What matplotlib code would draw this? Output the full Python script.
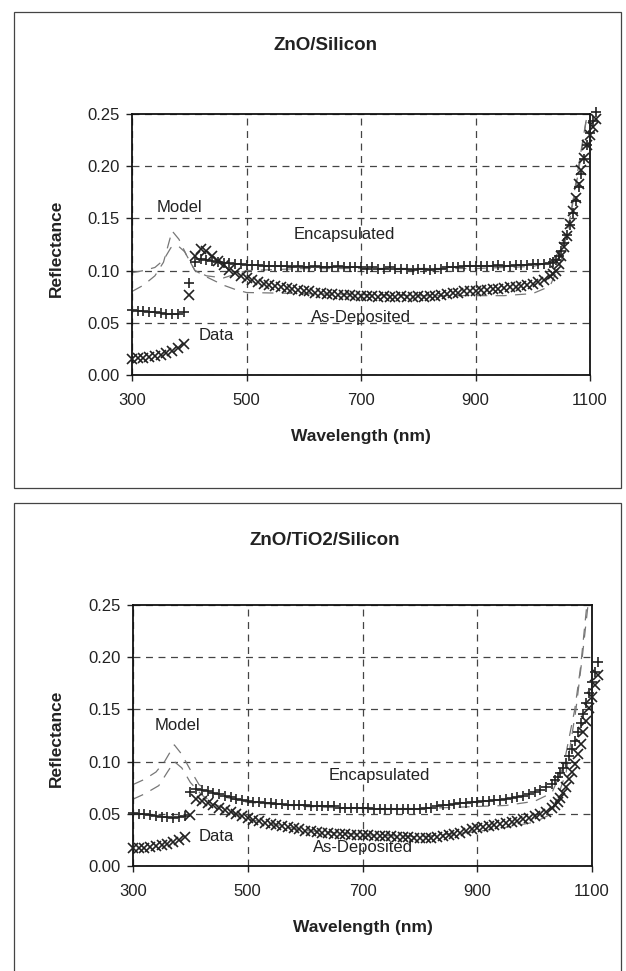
import matplotlib
matplotlib.use("Agg")
from matplotlib import pyplot as plt
from matplotlib.patches import Rectangle

plt.rcParams['font.family'] = ['Liberation Sans', 'DejaVu Sans']
plt.rcParams['lines.scale_dashes'] = False

# ---- data -------------------------------------------------------------
# short-wavelength segment (separate detector, 300-390 nm)
wl_uv = [300, 310, 320, 330, 340, 350, 360, 370, 380, 390]
# main segment: 10 nm steps to 1030, then 5 nm steps up to 1110
wl_main = list(range(400, 1031, 10)) + list(range(1035, 1111, 5))

top_enc_uv = [0.062, 0.061, 0.061, 0.060, 0.060, 0.059, 0.058, 0.058, 0.058, 0.060]
top_dep_uv = [0.015, 0.016, 0.016, 0.017, 0.018, 0.019, 0.021, 0.023, 0.026, 0.030]
top_enc = [0.088, 0.108, 0.111, 0.110, 0.109, 0.108, 0.107, 0.107, 0.106, 0.106,
           0.105, 0.105, 0.105, 0.104, 0.104, 0.104, 0.104, 0.104, 0.103, 0.104,
           0.103, 0.103, 0.104, 0.103, 0.103, 0.103, 0.104, 0.103, 0.103, 0.103,
           0.103, 0.102, 0.103, 0.102, 0.102, 0.103, 0.102, 0.102, 0.102, 0.101,
           0.102, 0.102, 0.101, 0.102, 0.102, 0.103, 0.103, 0.103, 0.104, 0.104,
           0.104, 0.104, 0.104, 0.104, 0.105, 0.104, 0.104, 0.105, 0.105, 0.105,
           0.106, 0.106, 0.106, 0.107,
           0.108, 0.110, 0.114, 0.119, 0.126, 0.134, 0.144, 0.155, 0.167, 0.180,
           0.193, 0.207, 0.220, 0.232, 0.243, 0.252]
top_dep = [0.077, 0.114, 0.121, 0.119, 0.114, 0.109, 0.105, 0.101, 0.098, 0.095,
           0.093, 0.091, 0.089, 0.087, 0.086, 0.085, 0.084, 0.083, 0.082, 0.081,
           0.080, 0.080, 0.079, 0.079, 0.078, 0.078, 0.077, 0.077, 0.077, 0.076,
           0.076, 0.076, 0.076, 0.075, 0.076, 0.075, 0.075, 0.076, 0.075, 0.075,
           0.076, 0.075, 0.076, 0.076, 0.077, 0.078, 0.079, 0.079, 0.080, 0.080,
           0.080, 0.081, 0.081, 0.082, 0.082, 0.083, 0.084, 0.084, 0.085, 0.086,
           0.087, 0.089, 0.091, 0.095,
           0.097, 0.100, 0.106, 0.114, 0.123, 0.133, 0.145, 0.157, 0.170, 0.183,
           0.196, 0.208, 0.220, 0.230, 0.238, 0.245]

top_mod_enc_wl = [300, 320, 340, 355, 368, 380, 392, 410, 430, 460, 500, 600, 700,
                  800, 900, 1000, 1030, 1050, 1065, 1080, 1095]
top_mod_enc = [0.098, 0.100, 0.103, 0.110, 0.122, 0.124, 0.118, 0.100, 0.095, 0.093,
               0.100, 0.102, 0.102, 0.102, 0.102, 0.104, 0.108, 0.120, 0.150, 0.195, 0.250]
top_mod_dep_wl = [300, 320, 340, 355, 370, 382, 395, 410, 430, 460, 480, 500, 600,
                  700, 800, 900, 950, 1000, 1030, 1050, 1065, 1080, 1095]
top_mod_dep = [0.080, 0.086, 0.095, 0.108, 0.138, 0.130, 0.115, 0.100, 0.094, 0.086,
               0.082, 0.079, 0.078, 0.077, 0.076, 0.076, 0.076, 0.078, 0.085, 0.110,
               0.150, 0.200, 0.250]

bot_enc_uv = [0.051, 0.050, 0.050, 0.049, 0.048, 0.047, 0.047, 0.046, 0.047, 0.048]
bot_dep_uv = [0.017, 0.017, 0.017, 0.018, 0.019, 0.020, 0.021, 0.023, 0.025, 0.028]
bot_enc = [0.071, 0.074, 0.073, 0.072, 0.070, 0.069, 0.067, 0.066, 0.064, 0.063,
           0.062, 0.061, 0.061, 0.060, 0.060, 0.059, 0.059, 0.058, 0.058, 0.058,
           0.058, 0.057, 0.057, 0.057, 0.057, 0.057, 0.056, 0.056, 0.056, 0.056,
           0.056, 0.056, 0.055, 0.055, 0.055, 0.055, 0.055, 0.055, 0.055, 0.055,
           0.055, 0.056, 0.056, 0.057, 0.058, 0.058, 0.059, 0.060, 0.060, 0.061,
           0.061, 0.062, 0.062, 0.063, 0.063, 0.064, 0.065, 0.066, 0.067, 0.069,
           0.071, 0.073, 0.076, 0.079,
           0.082, 0.085, 0.089, 0.094, 0.099, 0.105, 0.112, 0.120, 0.128, 0.137,
           0.146, 0.156, 0.166, 0.176, 0.186, 0.195]
bot_dep = [0.049, 0.064, 0.062, 0.060, 0.058, 0.056, 0.054, 0.052, 0.050, 0.048,
           0.046, 0.044, 0.043, 0.041, 0.040, 0.039, 0.038, 0.037, 0.036, 0.035,
           0.034, 0.034, 0.033, 0.032, 0.032, 0.031, 0.031, 0.031, 0.030, 0.030,
           0.030, 0.030, 0.029, 0.029, 0.029, 0.029, 0.028, 0.028, 0.028, 0.027,
           0.027, 0.027, 0.027, 0.028, 0.029, 0.030, 0.031, 0.032, 0.034, 0.035,
           0.036, 0.037, 0.038, 0.039, 0.040, 0.041, 0.042, 0.043, 0.045, 0.046,
           0.048, 0.050, 0.052, 0.056,
           0.058, 0.061, 0.065, 0.070, 0.076, 0.083, 0.090, 0.098, 0.107, 0.117,
           0.128, 0.139, 0.151, 0.162, 0.173, 0.183]

bot_mod_enc_wl = [300, 320, 340, 355, 372, 385, 400, 415, 430, 460, 500, 600, 700,
                  800, 900, 950, 1000, 1030, 1050, 1070, 1080, 1091]
bot_mod_enc = [0.078, 0.083, 0.090, 0.100, 0.116, 0.107, 0.092, 0.078, 0.072, 0.066,
               0.061, 0.057, 0.055, 0.055, 0.057, 0.058, 0.062, 0.070, 0.095, 0.150,
               0.190, 0.250]
bot_mod_dep_wl = [300, 320, 345, 360, 372, 385, 400, 420, 440, 470, 500, 600, 700,
                  800, 900, 950, 1000, 1030, 1055, 1072, 1083, 1093]
bot_mod_dep = [0.064, 0.069, 0.077, 0.090, 0.100, 0.094, 0.080, 0.068, 0.060, 0.052,
               0.045, 0.034, 0.030, 0.028, 0.033, 0.037, 0.042, 0.050, 0.090, 0.150,
               0.200, 0.250]

panels = [
    dict(title="ZnO/Silicon", enc_uv=top_enc_uv, dep_uv=top_dep_uv, enc=top_enc, dep=top_dep,
         mods=[(top_mod_enc_wl, top_mod_enc), (top_mod_dep_wl, top_mod_dep)],
         notes=[("Model", 383, 0.160), ("Encapsulated", 670, 0.135),
                ("As-Deposited", 700, 0.055), ("Data", 448, 0.038)]),
    dict(title="ZnO/TiO2/Silicon", enc_uv=bot_enc_uv, dep_uv=bot_dep_uv, enc=bot_enc, dep=bot_dep,
         mods=[(bot_mod_enc_wl, bot_mod_enc), (bot_mod_dep_wl, bot_mod_dep)],
         notes=[("Model", 378, 0.135), ("Encapsulated", 730, 0.087),
                ("As-Deposited", 700, 0.018), ("Data", 446, 0.028)]),
]

# ---- layout (pixel based, 626 x 971) ----------------------------------
W, H = 626, 971
fig = plt.figure(figsize=(W / 100, H / 100), dpi=100)
fig.patch.set_facecolor("white")


def fx(px):
    return px / W


def fy(py):
    return 1 - py / H


# chart-area frames
for top, bottom in [(12, 488), (503, 990)]:
    fig.add_artist(Rectangle((fx(14), fy(bottom)), fx(621) - fx(14), fy(top) - fy(bottom),
                             transform=fig.transFigure, fill=False, ec="#444", lw=0.9))

axes_box = [(132, 590, 114, 375), (133, 592, 605, 866)]
title_y = [45, 540]
xlab_y = [437, 927]
ylab_y = [248, 738]

ink = "#222222"
for p, (l, r, t, b), ty, xly, yly in zip(panels, axes_box, title_y, xlab_y, ylab_y):
    ax = fig.add_axes([fx(l), fy(b), fx(r) - fx(l), fy(t) - fy(b)])
    ax.set_xlim(300, 1100)
    ax.set_ylim(0, 0.25)
    ax.set_xticks([300, 500, 700, 900, 1100])
    ax.set_yticks([0, 0.05, 0.10, 0.15, 0.20, 0.25])
    ax.set_yticklabels(["0.00", "0.05", "0.10", "0.15", "0.20", "0.25"])
    ax.tick_params(labelsize=12, colors=ink, length=4, width=1, pad=5)
    ax.tick_params(axis="x", pad=9)
    for s in ax.spines.values():
        s.set_linewidth(1.3)
        s.set_color("#111")
    ax.grid(True, color="#444", lw=0.9, dashes=(5, 4))
    ax.set_axisbelow(True)

    for mwl, mr in p["mods"]:
        ax.plot(mwl, mr, color="#777", lw=0.9, dashes=(8, 6), clip_on=False, zorder=2)

    mk = dict(linestyle="none", color=ink, markersize=7.5, markeredgewidth=1.2,
              clip_on=False, zorder=3)
    ax.plot(wl_uv, p["enc_uv"], marker="+", **mk)
    ax.plot(wl_main, p["enc"], marker="+", **mk)
    ax.plot(wl_uv, p["dep_uv"], marker="x", **mk)
    ax.plot(wl_main, p["dep"], marker="x", **mk)

    for txt, x, y in p["notes"]:
        ax.text(x, y, txt, ha="center", va="center", fontsize=12, color=ink)

    fig.text(fx(325), fy(ty), p["title"], ha="center", va="center",
             fontsize=13.5, fontweight="bold", color=ink)
    fig.text(fx((l + r) / 2), fy(xly), "Wavelength (nm)", ha="center", va="center",
             fontsize=12.5, fontweight="bold", color=ink)
    fig.text(fx(56), fy(yly), "Reflectance", ha="center", va="center", rotation=90,
             fontsize=12.5, fontweight="bold", color=ink)

fig.savefig("out.png", dpi=100)
